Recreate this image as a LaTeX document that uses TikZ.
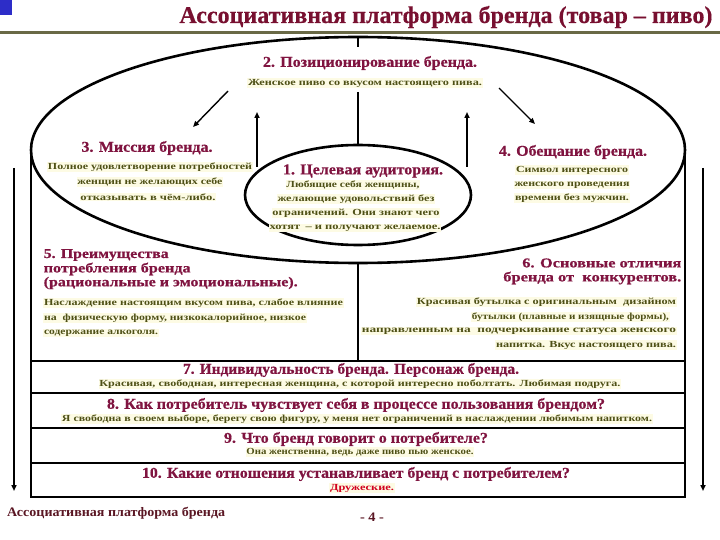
\documentclass[tikz,border=0pt]{standalone}
\usepackage{fontspec}
\setmainfont{Liberation Serif}
\usepackage{graphicx}
\usetikzlibrary{shapes.geometric,arrows.meta}
\definecolor{hdc}{RGB}{128,20,64}
\definecolor{sbc}{RGB}{78,80,22}
\definecolor{sbbg}{RGB}{253,251,228}
\definecolor{rulec}{RGB}{105,105,70}
\definecolor{ttl}{RGB}{120,16,48}
\definecolor{ftc}{RGB}{90,22,35}
\definecolor{redc}{RGB}{210,0,30}
\definecolor{sq}{RGB}{45,45,200}
\newcommand\fitto[2]{\resizebox{#1pt}{\height}{#2}}
\begin{document}
\begin{tikzpicture}[x=1pt,y=-1pt,
  frame/.style={line width=2.6pt},
  hd/.style={text=hdc,font=\bfseries\addfontfeature{FakeBold=0.6}\fontsize{15}{15}\selectfont,inner sep=0.5pt},
  hds/.style={text=hdc,font=\bfseries\addfontfeature{FakeBold=0.6}\fontsize{13.5}{13.5}\selectfont,inner sep=0.5pt},
  sb/.style={text=sbc,fill=sbbg,font=\bfseries\fontsize{9.3}{9.3}\selectfont,inner sep=0.8pt},
  arr/.style={line width=1.4pt,-{Triangle[length=6pt,width=5pt]}},
  varr/.style={line width=2pt,-{Triangle[length=6pt,width=5pt]}},
  sarr/.style={line width=2.2pt,-{Triangle[length=6pt,width=5pt]}}]
\useasboundingbox (0,0) rectangle (720,540);
\fill[white] (0,0) rectangle (720,540);
% header
\fill[sq] (0,0) rectangle (12,15);
\draw[rulec,line width=3pt] (0,32.5) -- (720,32.5);
\node[text=ttl,font=\bfseries\addfontfeature{FakeBold=0.4}\fontsize{24}{24}\selectfont,inner sep=0pt,anchor=base] (title) at (446,23)
  {\fitto{533}{Ассоциативная платформа бренда (товар – пиво)}};
% shapes
\node[draw,ellipse,frame,minimum width=654pt,minimum height=226pt,inner sep=0pt,outer sep=0pt] (big) at (358,150) {};
\node[draw,ellipse,frame,fill=white,minimum width=226pt,minimum height=100pt,inner sep=0pt,outer sep=0pt] (small) at (358,195) {};
\coordinate (g1) at (358,47);
\coordinate (g2) at (358,92);
\draw[frame] (big.north) -- (g1);
\draw[frame] (g2) -- (small.north);
\coordinate (bl) at (31,497);
\coordinate (br) at (685,497);
\draw[frame] (big.west) -- (bl) -- (br) -- (big.east);
\foreach \yy/\nn in {361/a,393/b,428/c,463/d}{
  \coordinate (L\nn) at (31,\yy);
  \coordinate (R\nn) at (685,\yy);
  \draw[frame] (L\nn) -- (R\nn);
}
\coordinate (dv) at (358,361);
\draw[frame] (big.south) -- (dv);
% side arrows
\coordinate (sl1) at (14,168); \coordinate (sl2) at (14,491);
\coordinate (sr1) at (703,168); \coordinate (sr2) at (703,491);
\draw[sarr] (sl1) -- (sl2);
\draw[sarr] (sr1) -- (sr2);
% inner arrows
\coordinate (a1s) at (228,91); \coordinate (a1e) at (193,127);
\coordinate (a2s) at (499,88); \coordinate (a2e) at (535,124);
\coordinate (a3s) at (257,167); \coordinate (a3e) at (257,112);
\coordinate (a4s) at (467,167); \coordinate (a4e) at (467,112);
\draw[arr] (a1s) -- (a1e);
\draw[arr] (a2s) -- (a2e);
\draw[varr] (a3s) -- (a3e);
\draw[varr] (a4s) -- (a4e);
% 2
\node[hd,fill=white,inner sep=2pt] (h2) at (370,63) {\fitto{214}{2. Позиционирование бренда.}};
\node[sb] (s2) at (365,83) {\fitto{234}{Женское пиво со вкусом настоящего пива.}};
% 3
\node[sb] (s3a) at (150,167) {\fitto{204}{Полное удовлетворение потребностей}};
\node[sb] (s3b) at (150,182) {\fitto{145}{женщин не желающих себе}};
\node[sb] (s3c) at (148,197) {\fitto{135}{отказывать в чём-либо.}};
\node[hd] (h3) at (147,148) {\fitto{131}{3. Миссия бренда.}};
% 1
\node[sb] (s1a) at (353,185) {\fitto{133}{Любящие себя женщины,}};
\node[sb] (s1b) at (356,199) {\fitto{157}{желающие удовольствий без}};
\node[sb] (s1c) at (356,213) {\fitto{167}{ограничений. Они знают чего}};
\node[sb] (s1d) at (355,228) {\fitto{171}{хотят \,– и получают желаемое.}};
\node[hd] (h1) at (363,171) {\fitto{160}{1. Целевая аудитория.}};
% 4
\node[sb] (s4a) at (572,170) {\fitto{112}{Символ интересного}};
\node[sb] (s4b) at (572,185) {\fitto{115}{женского проведения}};
\node[sb] (s4c) at (572,198) {\fitto{114}{времени без мужчин.}};
\node[hd] (h4) at (573,152) {\fitto{148}{4. Обещание бренда.}};
% 5
\node[hds,anchor=west] (h5a) at (43,255) {\fitto{125}{5. Преимущества}};
\node[hds,anchor=west] (h5b) at (43,269) {\fitto{147}{потребления бренда}};
\node[hds,anchor=west] (h5c) at (43,283) {\fitto{254}{(рациональные и эмоциональные).}};
\node[sb,anchor=west] (s5a) at (43,303) {\fitto{299}{Наслаждение настоящим вкусом пива, слабое влияние}};
\node[sb,anchor=west] (s5b) at (43,318) {\fitto{262}{на \ физическую форму, низкокалорийное, низкое}};
\node[sb,anchor=west] (s5c) at (43,333) {\fitto{114}{содержание алкоголя.}};
% 6
\node[hds,anchor=east] (h6a) at (682,263) {\fitto{159}{6. Основные отличия}};
\node[hds,anchor=east] (h6b) at (682,278) {\fitto{178}{бренда от \ конкурентов.}};
\node[sb,anchor=east] (s6a) at (677,302) {\fitto{259}{Красивая бутылка с оригинальным \ дизайном}};
\node[sb,anchor=east] (s6b) at (670,317) {\fitto{197}{бутылки (плавные и изящные формы),}};
\node[sb,anchor=east] (s6c) at (677,331) {\fitto{314}{направленным на \ подчеркивание статуса женского}};
\node[sb,anchor=east] (s6d) at (677,345) {\fitto{180}{напитка. Вкус настоящего пива.}};
% 7-10
\node[sb] (s7) at (360,384) {\fitto{521}{Красивая, свободная, интересная женщина, с которой интересно поболтать. Любимая подруга.}};
\node[hd] (h7) at (351,370) {\fitto{336}{7. Индивидуальность бренда. Персонаж бренда.}};
\node[sb] (s8) at (357,419) {\fitto{590}{Я свободна в своем выборе, берегу свою фигуру, у меня нет ограничений в наслаждении любимым напитком.}};
\node[hd] (h8) at (356,405) {\fitto{498}{8. Как потребитель чувствует себя в процессе пользования брендом?}};
\node[sb] (s9) at (360,452) {\fitto{227}{Она женственна, ведь даже пиво пью женское.}};
\node[hd] (h9) at (356,439) {\fitto{264}{9. Что бренд говорит о потребителе?}};
\node[sb,text=redc] (s10) at (362,488) {\fitto{64}{Дружеские.}};
\node[hd] (h10) at (356,474) {\fitto{428}{10. Какие отношения устанавливает бренд с потребителем?}};
% footer
\node[text=ftc,font=\bfseries\fontsize{13}{13}\selectfont,inner sep=0pt,anchor=west] (f1) at (7,513) {\fitto{218}{Ассоциативная платформа бренда}};
\node[text=ftc,font=\bfseries\fontsize{13}{13}\selectfont,inner sep=0pt] (f2) at (372,517) {\fitto{24}{- 4 -}};
\end{tikzpicture}
\end{document}
